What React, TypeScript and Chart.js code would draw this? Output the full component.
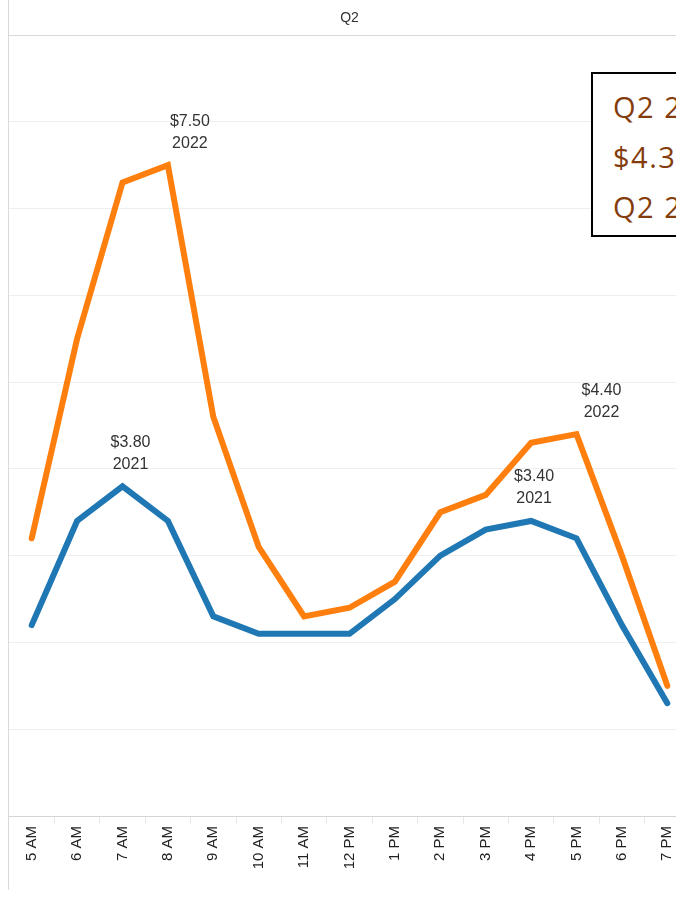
import React, { useEffect, useRef } from "react";
import { Chart, registerables } from "chart.js";

Chart.register(...registerables);

// ---- data ----
const hours = ["5 AM", "6 AM", "7 AM", "8 AM", "9 AM", "10 AM", "11 AM", "12 PM", "1 PM", "2 PM", "3 PM", "4 PM", "5 PM", "6 PM", "7 PM"];
const series2021 = [2.2, 3.4, 3.8, 3.4, 2.3, 2.1, 2.1, 2.1, 2.5, 3.0, 3.3, 3.4, 3.2, 2.2, 1.3];
const series2022 = [3.2, 5.5, 7.3, 7.5, 4.6, 3.1, 2.3, 2.4, 2.7, 3.5, 3.7, 4.3, 4.4, 3.0, 1.5];
const seriesNames = ["2021", "2022"];
const yMin = 0;
const yMax = 9;
const yStep = 1;
const headerText = "Q2";
const boxLines = ["Q2 2022", "$4.30", "Q2 2021"];
// mark labels: dataset index, point index, text lines
const markLabelDataset = [1, 1, 0, 0];
const markLabelIndex = [3, 12, 2, 11];
const markLabelText = [["$7.50", "2022"], ["$4.40", "2022"], ["$3.80", "2021"], ["$3.40", "2021"]];
// style: horizontal nudge of each mark label (px)
const markLabelNudge = [22, 25, 8, 3];

const ORANGE = "#ff7f0e";
const BLUE = "#1f77b4";

const chromePlugin = {
  id: "chrome",
  beforeDatasetsDraw(chart: any) {
    const { ctx, chartArea } = chart;
    ctx.save();
    // header line
    ctx.strokeStyle = "#d9d9d9";
    ctx.lineWidth = 1;
    ctx.beginPath();
    ctx.moveTo(chartArea.left, chartArea.top + 0.5);
    ctx.lineTo(chart.width, chartArea.top + 0.5);
    ctx.stroke();
    // left vertical line
    ctx.beginPath();
    ctx.moveTo(chartArea.left - 0.5, 0);
    ctx.lineTo(chartArea.left - 0.5, 890);
    ctx.stroke();
    // header text
    ctx.fillStyle = "#333333";
    ctx.font = "14px 'Liberation Sans', Arial, sans-serif";
    ctx.textAlign = "center";
    ctx.textBaseline = "middle";
    ctx.fillText(headerText, (chartArea.left + chartArea.right) / 2, 18);
    ctx.restore();
  },
  afterDatasetsDraw(chart: any) {
    const { ctx } = chart;
    ctx.save();
    ctx.fillStyle = "#333333";
    ctx.font = "16px 'Liberation Sans', Arial, sans-serif";
    ctx.textAlign = "center";
    ctx.textBaseline = "middle";
    markLabelText.forEach((lines, i) => {
      const meta = chart.getDatasetMeta(markLabelDataset[i]);
      const el = meta.data[markLabelIndex[i]];
      const x = el.x + markLabelNudge[i];
      ctx.fillText(lines[0], x, el.y - 44);
      ctx.fillText(lines[1], x, el.y - 22);
    });
    ctx.restore();
  },
};

function LineChart() {
  const ref = useRef<HTMLCanvasElement | null>(null);
  useEffect(() => {
    if (!ref.current) return;
    const chart = new Chart(ref.current, {
      type: "line",
      data: {
        labels: hours,
        datasets: [
          {
            label: seriesNames[0],
            data: series2021,
            borderColor: BLUE,
            backgroundColor: BLUE,
            borderWidth: 6,
            pointRadius: 0,
            tension: 0,
            borderJoinStyle: "miter",
            borderCapStyle: "round",
          },
          {
            label: seriesNames[1],
            data: series2022,
            borderColor: ORANGE,
            backgroundColor: ORANGE,
            borderWidth: 6,
            pointRadius: 0,
            tension: 0,
            borderJoinStyle: "miter",
            borderCapStyle: "round",
          },
        ],
      },
      options: {
        animation: false,
        responsive: false,
        devicePixelRatio: 1,
        layout: { padding: { left: 9, right: 10, top: 35, bottom: 11 } },
        plugins: {
          legend: { display: false },
          tooltip: { enabled: false },
          title: { display: false },
        },
        scales: {
          x: {
            type: "category",
            offset: true,
            border: { display: true, color: "#d4d4d4", width: 1 },
            grid: {
              display: true,
              offset: true,
              drawOnChartArea: false,
              drawTicks: true,
              tickLength: 8,
              color: "#e8e8e8",
            },
            ticks: {
              autoSkip: false,
              minRotation: 90,
              maxRotation: 90,
              padding: 2,
              color: "#222222",
              font: { family: "'Liberation Sans', Arial, sans-serif", size: 15 },
            },
            afterFit(scale: any) {
              scale.height = 74;
            },
          },
          y: {
            min: yMin,
            max: yMax,
            border: { display: false },
            grid: {
              drawTicks: false,
              color: (c: any) => (c.tick && (c.tick.value === yMin || c.tick.value === yMax) ? "rgba(0,0,0,0)" : "#efefef"),
              lineWidth: 1,
            },
            ticks: { display: false, stepSize: yStep },
            afterFit(scale: any) {
              scale.width = 0;
            },
          },
        },
      },
      plugins: [chromePlugin],
    } as any);
    return () => chart.destroy();
  }, []);
  return <canvas ref={ref} width={700} height={901} style={{ position: "absolute", left: 0, top: 0, width: 700, height: 901 }} />;
}

export default function App() {
  return (
    <div
      style={{
        position: "fixed",
        left: 0,
        top: 0,
        width: 676,
        height: 901,
        overflow: "hidden",
        background: "#ffffff",
      }}
    >
      <LineChart />
      <div
        style={{
          position: "absolute",
          left: 591,
          top: 72,
          width: 200,
          height: 165,
          boxSizing: "border-box",
          border: "2px solid #000000",
          background: "#ffffff",
          paddingTop: 8,
          paddingLeft: 20,
          fontFamily: "'Open Sans', sans-serif",
          fontSize: 29,
          letterSpacing: "1.5px",
          lineHeight: "50px",
          color: "#843c0c",
          whiteSpace: "nowrap",
        }}
      >
        {boxLines.map((t) => (
          <div key={t}>{t}</div>
        ))}
      </div>
    </div>
  );
}
